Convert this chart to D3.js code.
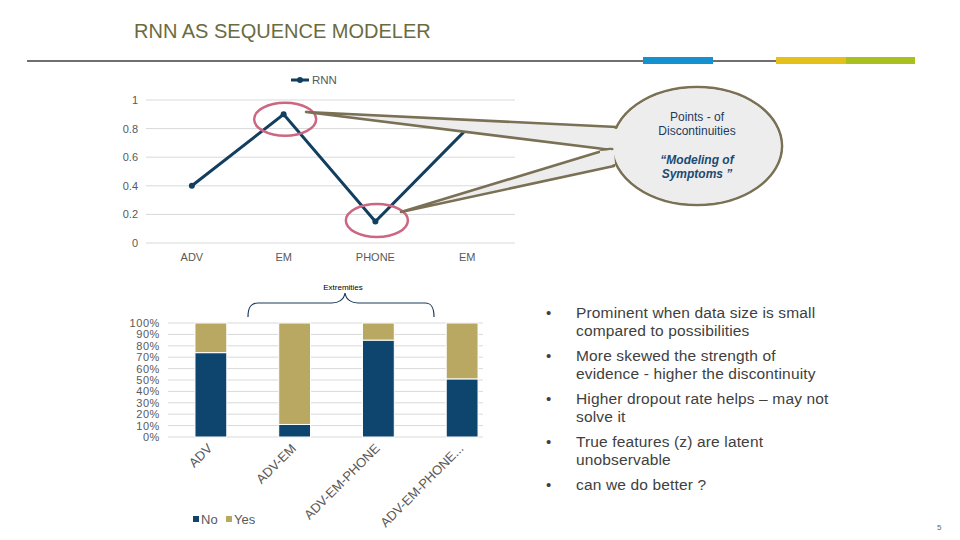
<!DOCTYPE html>
<html><head><meta charset="utf-8">
<script src="https://cdn.jsdelivr.net/npm/d3@7"></script>
<style>
html,body{margin:0;padding:0;background:#fff;}
svg{display:block;font-family:"Liberation Sans",Arial,sans-serif;}
</style></head>
<body>
<svg id="c" width="960" height="540"></svg>
<script>
// ---------- data ----------
const title = "RNN AS SEQUENCE MODELER";
const lineCategories = ["ADV", "EM", "PHONE", "EM"];
const rnnValues = [0.4, 0.9, 0.15, 0.8];
const lineTicks = [0, 0.2, 0.4, 0.6, 0.8, 1];
const barCategories = ["ADV", "ADV-EM", "ADV-EM-PHONE", "ADV-EM-PHONE..."];
const noValues = [74, 11, 85, 51];
const yesValues = [26, 89, 15, 49];
const barTicks = [0, 10, 20, 30, 40, 50, 60, 70, 80, 90, 100];
const bullets = [
  ["Prominent when data size is small", "compared to possibilities"],
  ["More skewed the strength of", "evidence - higher the discontinuity"],
  ["Higher dropout rate helps \u2013 may not", "solve it"],
  ["True features (z) are latent", "unobservable"],
  ["can we do better ?"]
];
const calloutTop = ["Points - of", "Discontinuities"];
const calloutBottom = ["\u201cModeling of", "Symptoms \u201d"];

// ---------- drawing ----------
const svg = d3.select("#c");
const navy = "#123f5f";

// header
svg.append("text").attr("x", 134).attr("y", 38).attr("font-size", 20)
  .attr("fill", "#6b6b40").text(title);
svg.append("line").attr("x1", 27).attr("x2", 915).attr("y1", 61).attr("y2", 61)
  .attr("stroke", "#6f6f6f").attr("stroke-width", 2.2);
svg.append("rect").attr("x", 643).attr("y", 57).attr("width", 70).attr("height", 7).attr("fill", "#1591d0");
svg.append("rect").attr("x", 776).attr("y", 57).attr("width", 70).attr("height", 7).attr("fill", "#e6c01a");
svg.append("rect").attr("x", 846).attr("y", 57).attr("width", 69).attr("height", 7).attr("fill", "#a8c020");

// ---- line chart ----
const lx = d3.scaleBand().domain(d3.range(lineCategories.length)).range([146, 513]);
const ly = d3.scaleLinear().domain([0, 1]).range([243, 100]);
const lg = svg.append("g");
lg.selectAll("line.grid").data(lineTicks).join("line")
  .attr("x1", 146).attr("x2", 515).attr("y1", d => ly(d)).attr("y2", d => ly(d))
  .attr("stroke", "#d9d9d9").attr("stroke-width", 1);
const lyAxis = lg.append("g").attr("transform", "translate(146,0)")
  .call(d3.axisLeft(ly).tickValues(lineTicks).tickFormat(d3.format("")).tickSize(0).tickPadding(8));
lyAxis.select(".domain").remove();
lyAxis.selectAll("text").attr("font-size", 11).attr("fill", "#595959").attr("font-family", "Liberation Sans, Arial");
const lxAxis = lg.append("g").attr("transform", "translate(0,251)")
  .call(d3.axisBottom(lx).tickFormat(i => lineCategories[i]).tickSize(0).tickPadding(2));
lxAxis.select(".domain").remove();
lxAxis.selectAll("text").attr("font-size", 11).attr("fill", "#595959").attr("font-family", "Liberation Sans, Arial");

const cx = i => lx(i) + lx.bandwidth() / 2;
lg.append("path").datum(rnnValues)
  .attr("d", d3.line().x((d, i) => cx(i)).y(d => ly(d)))
  .attr("fill", "none").attr("stroke", navy).attr("stroke-width", 3).attr("stroke-linejoin", "miter");
lg.selectAll("circle.pt").data(rnnValues).join("circle")
  .attr("cx", (d, i) => cx(i)).attr("cy", d => ly(d)).attr("r", 3).attr("fill", navy);

// legend
lg.append("line").attr("x1", 291).attr("x2", 309).attr("y1", 80).attr("y2", 80).attr("stroke", navy).attr("stroke-width", 3);
lg.append("circle").attr("cx", 300).attr("cy", 80).attr("r", 3).attr("fill", navy);
lg.append("text").attr("x", 312).attr("y", 84).attr("font-size", 11.5).attr("fill", "#595959").text("RNN");

// pink circles around discontinuities
[1, 2].forEach(i => {
  lg.append("ellipse").attr("cx", cx(i) + 1.5).attr("cy", ly(rnnValues[i]) + (i === 1 ? 5 : -1))
    .attr("rx", 31).attr("ry", 16.5).attr("fill", "none")
    .attr("stroke", "#cc6682").attr("stroke-width", 2.5);
});

// callout
const cg = svg.append("g");
const wedgeStyle = s => s.attr("fill", "#eeeded").attr("stroke", "#7a7055").attr("stroke-width", 2.6).attr("stroke-linejoin", "round");
cg.append("polygon").attr("points", "306,112 617,127 612,150").call(wedgeStyle);
cg.append("polygon").attr("points", "401,212 612,148 614,166").call(wedgeStyle);
cg.append("ellipse").attr("cx", 697).attr("cy", 146).attr("rx", 85).attr("ry", 59).call(wedgeStyle);
cg.append("ellipse").attr("cx", 697).attr("cy", 146).attr("rx", 83.6).attr("ry", 57.6).attr("fill", "#eeeded");
cg.append("polygon").attr("points", "600,128 618,129 614,148 600,147").attr("fill", "#eeeded");
cg.append("polygon").attr("points", "600,151 614,150 615,164 600,166").attr("fill", "#eeeded");
calloutTop.forEach((t, i) => cg.append("text").attr("x", 697).attr("y", 121 + i * 14)
  .attr("text-anchor", "middle").attr("font-size", 12).attr("fill", "#1f3a5a").text(t));
calloutBottom.forEach((t, i) => cg.append("text").attr("x", 697).attr("y", 164 + i * 14)
  .attr("text-anchor", "middle").attr("font-size", 12).attr("font-weight", "bold").attr("font-style", "italic")
  .attr("fill", "#1b4a72").text(t));

// ---- stacked bar chart ----
const bx = d3.scaleBand().domain(barCategories).range([169, 504]).paddingInner(0.62).paddingOuter(0.31);
const by = d3.scaleLinear().domain([0, 100]).range([437, 323]);
const bg = svg.append("g");
bg.selectAll("line.grid").data(barTicks).join("line")
  .attr("x1", 168).attr("x2", 483).attr("y1", d => by(d)).attr("y2", d => by(d))
  .attr("stroke", "#d9d9d9").attr("stroke-width", 1);
const byAxis = bg.append("g").attr("transform", "translate(168,0)")
  .call(d3.axisLeft(by).tickValues(barTicks).tickFormat(d => d + "%").tickSize(0).tickPadding(8));
byAxis.select(".domain").remove();
byAxis.selectAll("text").attr("font-size", 11).attr("letter-spacing", 0.6).attr("fill", "#595959").attr("font-family", "Liberation Sans, Arial");

const stackData = barCategories.map((c, i) => ({cat: c, No: noValues[i], Yes: yesValues[i]}));
const series = d3.stack().keys(["No", "Yes"])(stackData);
const colors = {No: "#0e456e", Yes: "#b8a862"};
bg.selectAll("g.s").data(series).join("g").attr("fill", d => colors[d.key])
  .selectAll("rect").data(d => d).join("rect")
  .attr("x", d => bx(d.data.cat)).attr("width", bx.bandwidth())
  .attr("y", d => by(d[1])).attr("height", d => by(d[0]) - by(d[1]))
  .attr("stroke", "#fff").attr("stroke-width", 1);

const bxAxis = bg.append("g").attr("transform", "translate(0,441)")
  .call(d3.axisBottom(bx).tickSize(0).tickPadding(0));
bxAxis.select(".domain").remove();
bxAxis.selectAll("text").attr("font-size", 13).attr("fill", "#595959").attr("font-family", "Liberation Sans, Arial")
  .attr("text-anchor", "end").attr("dy", "0.35em").attr("y", 0)
  .attr("transform", "translate(-1,5) rotate(-45)");

// legend
bg.append("rect").attr("x", 193).attr("y", 516).attr("width", 6).attr("height", 6).attr("fill", colors.No);
bg.append("text").attr("x", 201).attr("y", 524).attr("font-size", 13).attr("fill", "#595959").text("No");
bg.append("rect").attr("x", 226).attr("y", 516).attr("width", 6).attr("height", 6).attr("fill", colors.Yes);
bg.append("text").attr("x", 234).attr("y", 524).attr("font-size", 13).attr("fill", "#595959").text("Yes");

// extremities brace
bg.append("text").attr("x", 343).attr("y", 290).attr("text-anchor", "middle").attr("font-size", 8).attr("fill", "#000").text("Extremities");
bg.append("path").attr("d", "M248,317 C248,307 251,303 258,303 L332,303 C338,303 344,300 345,293 C346,300 352,303 358,303 L425,303 C432,303 434,308 434,317")
  .attr("fill", "none").attr("stroke", "#1b3a5a").attr("stroke-width", 1.2);

// bullets
const tg = svg.append("g");
let yy = 318;
bullets.forEach(b => {
  tg.append("text").attr("x", 546).attr("y", yy).attr("font-size", 15).attr("fill", "#404040").text("\u2022");
  b.forEach((l, j) => tg.append("text").attr("x", 576).attr("y", yy + j * 18)
    .attr("font-size", 15.5).attr("letter-spacing", 0.15).attr("fill", "#404040").text(l));
  yy += 43;
});

// page number
svg.append("text").attr("x", 937).attr("y", 530).attr("font-size", 8).attr("fill", "#666").text("5");
</script>
</body></html>
